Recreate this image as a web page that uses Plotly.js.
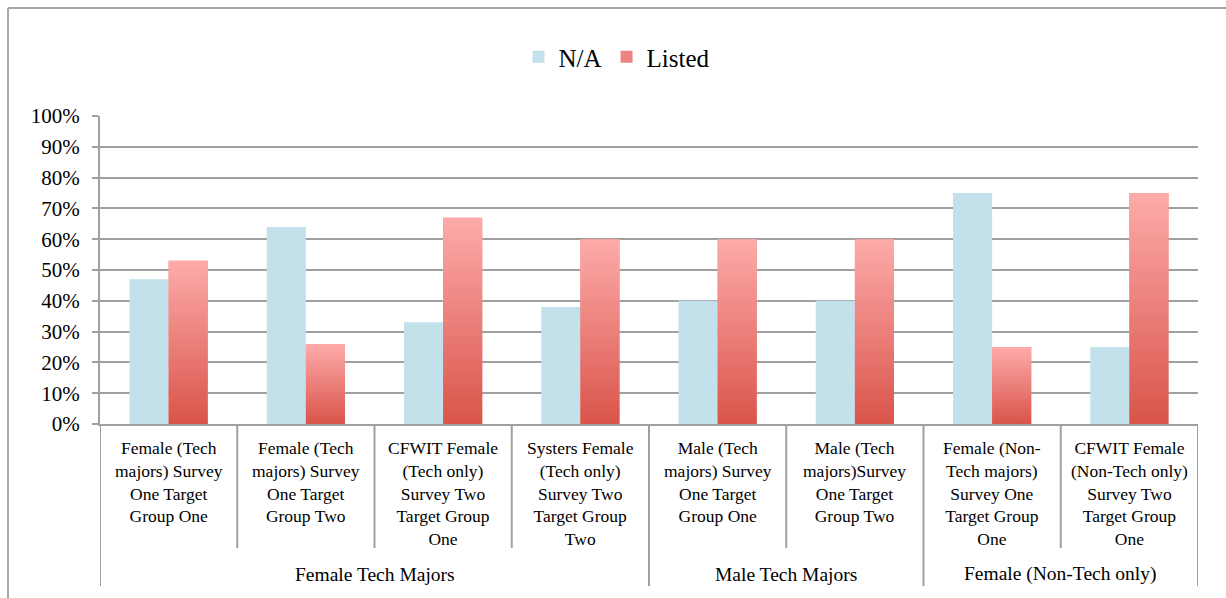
<!DOCTYPE html>
<html>
<head>
<meta charset="utf-8">
<script src="https://cdn.plot.ly/plotly-3.0.1.min.js"></script>
<style>
html,body{margin:0;padding:0;background:#fff;}
#chart{width:1226px;height:598px;}
</style>
</head>
<body>
<div id="chart"></div>
<script>
// ---- data ----
const categories = [
  "Female (Tech<br>majors) Survey<br>One Target<br>Group One",
  "Female (Tech<br>majors) Survey<br>One Target<br>Group Two",
  "CFWIT Female<br>(Tech only)<br>Survey Two<br>Target Group<br>One",
  "Systers Female<br>(Tech only)<br>Survey Two<br>Target Group<br>Two",
  "Male (Tech<br>majors) Survey<br>One Target<br>Group One",
  "Male (Tech<br>majors)Survey<br>One Target<br>Group Two",
  "Female (Non-<br>Tech majors)<br>Survey One<br>Target Group<br>One",
  "CFWIT Female<br>(Non-Tech only)<br>Survey Two<br>Target Group<br>One"
];
const groupNames = ["Female Tech Majors", "Male Tech Majors", "Female (Non-Tech only)"];
const groupSizes = [4, 2, 2];
const naValues = [47, 64, 33, 38, 40, 40, 75, 25];
const listedValues = [53, 26, 67, 60, 60, 60, 25, 75];
const yTickVals = [0,10,20,30,40,50,60,70,80,90,100];
const yTickText = ["0%","10%","20%","30%","40%","50%","60%","70%","80%","90%","100%"];

// ---- styling ----
const FONT = "Liberation Serif, Times New Roman, serif";
const GRID = "#a0a0a0";
const NA_COLOR = "#c3e1eb";
const LISTED_TOP = "#fdabaa";
const LISTED_BOTTOM = "#d9544a";
const BW = 0.285;

const idx = categories.map((_, i) => i);

const traces = [
  {
    type: "bar", name: "N/A", x: idx, y: naValues,
    offset: -BW, width: BW, marker: {color: NA_COLOR, line: {width: 0}},
    hoverinfo: "y"
  },
  {
    type: "bar", name: "Listed", x: idx, y: listedValues,
    offset: 0, width: BW, marker: {color: "#ec8580", line: {width: 0}},
    hoverinfo: "y"
  }
];
// gradient overlay for the Listed bars, one polygon per bar, derived from the data
listedValues.forEach((v, i) => {
  traces.push({
    type: "scatter", mode: "lines", showlegend: false, hoverinfo: "skip",
    x: [i, i + BW, i + BW, i, i],
    y: [0, 0, v, v, 0],
    fill: "toself",
    line: {width: 0, color: "rgba(0,0,0,0)"},
    fillgradient: {type: "vertical", colorscale: [[0, LISTED_BOTTOM], [1, LISTED_TOP]]}
  });
});

// axis decorations
const L = 100, R = 28, T = 116, B = 174, H = 598 - T - B, W = 1226 - L - R;
const py = px => (598 - B - px) / H;     // pixel y -> paper y
const pxp = px => (px - L) / W;          // pixel x -> paper x

const shapes = [];
const annotations = [];
let boundaries = [];
let acc = 0;
groupSizes.forEach(s => { acc += s; boundaries.push(acc); });
for (let i = 1; i < categories.length; i++) {
  const isGroup = boundaries.includes(i);
  shapes.push({type: "line", xref: "x", yref: "paper", x0: i - 0.5, x1: i - 0.5,
    y0: 0, y1: isGroup ? py(586) : py(548), line: {color: GRID, width: 2}});
}
shapes.push({type: "line", xref: "x", yref: "paper", x0: -0.5, x1: -0.5, y0: 0, y1: py(586), line: {color: GRID, width: 2}});
shapes.push({type: "line", xref: "x", yref: "paper", x0: categories.length - 0.5, x1: categories.length - 0.5, y0: 0, y1: py(586), line: {color: GRID, width: 2}});
// outer frame (left and top)
shapes.push({type: "line", xref: "paper", yref: "paper", x0: pxp(8), x1: pxp(8), y0: py(605), y1: py(8), line: {color: "#a8a8a8", width: 2}});
shapes.push({type: "line", xref: "paper", yref: "paper", x0: pxp(8), x1: pxp(1240), y0: py(8), y1: py(8), line: {color: "#a8a8a8", width: 2}});

categories.forEach((c, i) => {
  annotations.push({xref: "x", yref: "paper", x: i, y: 0, yanchor: "top", yshift: -12,
    text: c, showarrow: false, align: "center", font: {family: FONT, size: 17.5, color: "#000"}});
});
let start = 0;
groupNames.forEach((g, k) => {
  const mid = start + (groupSizes[k] - 1) / 2;
  annotations.push({xref: "x", yref: "paper", x: mid, y: py(574), yanchor: "middle",
    text: g, showarrow: false, font: {family: FONT, size: 19.5, color: "#000"}});
  start += groupSizes[k];
});

const layout = {
  width: 1226, height: 598,
  margin: {l: L, r: R, t: T, b: B},
  paper_bgcolor: "#fff", plot_bgcolor: "#fff",
  barmode: "overlay",
  showlegend: true,
  legend: {orientation: "h", x: pxp(617), xanchor: "center", y: py(57), yanchor: "middle",
    font: {family: FONT, size: 25, color: "#000"}, itemwidth: 30, tracegroupgap: 0},
  xaxis: {range: [-0.5, categories.length - 0.5], showticklabels: false, showgrid: false,
    zeroline: false, showline: true, linecolor: GRID, linewidth: 2, ticks: "", fixedrange: true},
  yaxis: {range: [0, 100], tickvals: yTickVals, ticktext: yTickText, showgrid: true,
    gridcolor: GRID, gridwidth: 2, zeroline: false, showline: true, linecolor: GRID, linewidth: 2,
    ticks: "outside", ticklen: 6, tickwidth: 2, tickcolor: GRID,
    tickfont: {family: FONT, size: 21, color: "#000"}, ticklabelstandoff: 8, fixedrange: true},
  shapes: shapes,
  annotations: annotations
};

Plotly.newPlot("chart", traces, layout, {displayModeBar: false, staticPlot: true});
</script>
</body>
</html>
